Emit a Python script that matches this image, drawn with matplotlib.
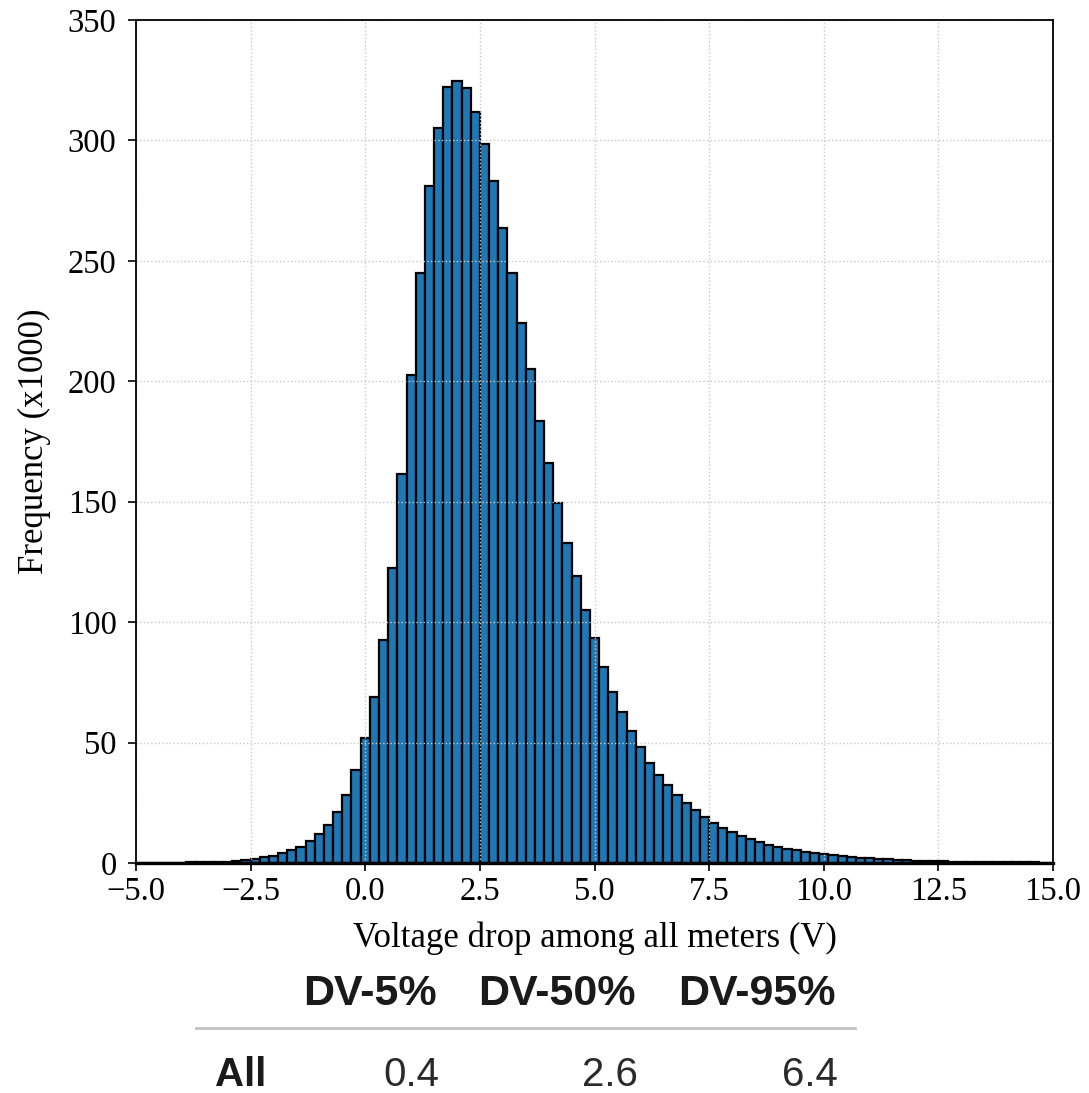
import matplotlib
matplotlib.use("Agg")
import matplotlib.pyplot as plt
import numpy as np
from matplotlib.lines import Line2D

# Histogram of voltage drop, bins of 0.2 V centred on even tenths (x1000 counts)
BIN_WIDTH = 0.2
BIN_CENTERS = np.round(np.arange(-5.0, 15.0 + 1e-9, BIN_WIDTH), 1)
COUNTS = [
    0.08, 0.1, 0.12, 0.14, 0.16, 0.19, 0.23, 0.28, 0.34, 0.44,       # -5.0 .. -3.2
    0.57, 0.8, 1.2, 1.7, 2.4, 3.0, 4.0, 5.4, 6.8, 9.1,               # -3.0 .. -1.2
    11.9, 15.8, 21.0, 28.1, 38.7, 51.7, 69.1, 92.7, 122.6, 161.7,    # -1.0 .. 0.8
    202.6, 245.0, 281.0, 305.2, 322.0, 324.5, 321.6, 311.7, 298.7, 283.3,  # 1.0 .. 2.8
    263.6, 244.8, 224.1, 205.2, 183.5, 166.0, 149.6, 133.0, 119.3, 105.2,  # 3.0 .. 4.8
    93.3, 81.2, 71.2, 62.9, 55.0, 48.1, 41.6, 36.7, 32.4, 28.1,      # 5.0 .. 6.8
    25.0, 21.9, 19.2, 16.8, 14.6, 12.8, 11.3, 10.0, 8.6, 7.4,        # 7.0 .. 8.8
    6.5, 5.9, 5.3, 4.6, 4.0, 3.6, 3.2, 2.9, 2.5, 2.2,                # 9.0 .. 10.8
    1.9, 1.7, 1.5, 1.3, 1.1, 1.0, 0.9, 0.8, 0.7, 0.6,                # 11.0 .. 12.8
    0.5, 0.45, 0.4, 0.36, 0.32, 0.29, 0.26, 0.23, 0.21, 0.19,        # 13.0 .. 14.8
    0.17,                                                            # 15.0
]

X_TICKS = [-5.0, -2.5, 0.0, 2.5, 5.0, 7.5, 10.0, 12.5, 15.0]
Y_TICKS = [0, 50, 100, 150, 200, 250, 300, 350]

TABLE_HEADERS = ["DV-5%", "DV-50%", "DV-95%"]
TABLE_ROW_LABEL = "All"
TABLE_VALUES = ["0.4", "2.6", "6.4"]

W, H = 1089, 1093
fig = plt.figure(figsize=(W / 100, H / 100), dpi=100)
ax = fig.add_axes([136 / W, 1 - 863 / H, (1053 - 136) / W, (863 - 20) / H])

ax.bar(BIN_CENTERS, COUNTS, width=BIN_WIDTH, color="#1f77b4",
       edgecolor="black", linewidth=1.6)

ax.set_xlim(-5.0, 15.0)
ax.set_ylim(0, 350)
ax.set_xticks(X_TICKS)
ax.set_yticks(Y_TICKS)
ax.set_xticklabels([f"{v:.1f}".replace("-", "\u2212") for v in X_TICKS])
ax.grid(True, linestyle=":", color="#c8c8c8", linewidth=1.0)

serif = "Liberation Serif"
for lab in ax.get_xticklabels() + ax.get_yticklabels():
    lab.set_fontfamily(serif)
    lab.set_fontsize(23.5)
ax.tick_params(length=6, width=1.2)
ax.tick_params(axis="y", pad=8)
ax.tick_params(axis="x", pad=4)
for s in ax.spines.values():
    s.set_linewidth(1.3)
ax.spines["bottom"].set_linewidth(2.4)

ax.set_xlabel("Voltage drop among all meters (V)", fontfamily=serif,
              fontsize=25, labelpad=10)
ax.set_ylabel("Frequency (x1000)", fontfamily=serif, fontsize=25,
              labelpad=12)

# summary table under the plot
sans = "Liberation Sans"
col_right = [437 / W, 636 / W, 836 / W]
y_head = 1 - 994 / H
y_row = 1 - 1075 / H
for x, h in zip(col_right, TABLE_HEADERS):
    fig.text(x, y_head, h, ha="right", va="center", fontfamily=sans,
             fontweight="bold", fontsize=31, color="#1a1a1a")
fig.text(215 / W, y_row, TABLE_ROW_LABEL, ha="left", va="center",
         fontfamily=sans, fontweight="bold", fontsize=29, color="#1a1a1a")
for x, v in zip(col_right, TABLE_VALUES):
    fig.text(x + 2 / W, y_row, v, ha="right", va="center", fontfamily=sans,
             fontsize=29, color="#2a2a2a")
fig.add_artist(Line2D([196 / W, 855 / W], [1 - 1028 / H, 1 - 1028 / H],
                      transform=fig.transFigure, color="#c2c2c2", linewidth=2))

fig.savefig("out.png", dpi=100)
